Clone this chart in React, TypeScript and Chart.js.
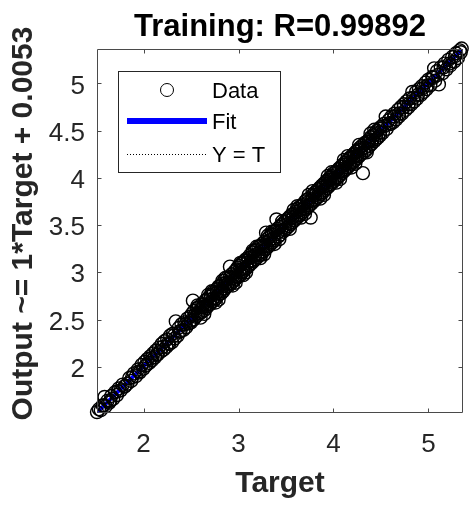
import React, { useEffect, useRef } from "react";
import { Chart, registerables } from "chart.js";

Chart.register(...registerables);

// Regression of network output against target (training subset)
const targets = [
  1.51, 1.53, 1.55, 1.57, 1.59, 1.60, 1.62, 1.64, 1.66, 1.68,
  1.70, 1.72, 1.74, 1.76, 1.78, 1.80, 1.83, 1.85, 1.87, 1.90,
  1.92, 1.94, 1.96, 1.98,
  2.00, 2.01, 2.03, 2.04, 2.06, 2.07, 2.09, 2.10, 2.12, 2.13,
  2.15, 2.16, 2.18, 2.19, 2.21, 2.22, 2.24, 2.25, 2.27, 2.28,
  2.30, 2.31, 2.33, 2.34, 2.36, 2.37, 2.39, 2.40, 2.42, 2.43,
  2.45, 2.46, 2.48, 2.49,
  2.50, 2.51, 2.52, 2.53, 2.53, 2.55, 2.56, 2.57, 2.58, 2.60,
  2.61, 2.61, 2.63, 2.64, 2.65, 2.66, 2.67, 2.67, 2.69, 2.70,
  2.71, 2.72, 2.73, 2.74, 2.74, 2.76, 2.77, 2.78, 2.79, 2.80,
  2.81, 2.82, 2.83, 2.84, 2.85, 2.86, 2.87, 2.88, 2.88, 2.90,
  2.91, 2.91, 2.92, 2.93, 2.95, 2.96, 2.97, 2.98, 2.99, 2.99,
  3.00, 3.01, 3.02, 3.03, 3.03, 3.04, 3.05, 3.06, 3.07, 3.08,
  3.09, 3.10, 3.11, 3.12, 3.12, 3.13, 3.14, 3.15, 3.16, 3.17,
  3.18, 3.19, 3.20, 3.21, 3.22, 3.23, 3.24, 3.25, 3.26, 3.27,
  3.28, 3.29, 3.30, 3.31, 3.32, 3.33, 3.34, 3.35, 3.36, 3.37,
  3.38, 3.39, 3.40, 3.41, 3.42, 3.43, 3.44, 3.45, 3.47, 3.48,
  3.49, 3.50,
  3.51, 3.52, 3.53, 3.54, 3.55, 3.56, 3.57, 3.58, 3.59, 3.60,
  3.61, 3.62, 3.63, 3.64, 3.65, 3.66, 3.67, 3.68, 3.69, 3.70,
  3.71, 3.72, 3.73, 3.74, 3.75, 3.76, 3.77, 3.78, 3.79, 3.80,
  3.81, 3.82, 3.83, 3.84, 3.85, 3.86, 3.87, 3.88, 3.89, 3.90,
  3.91, 3.92, 3.93, 3.94, 3.95, 3.96, 3.97, 3.98, 3.99,
  4.00, 4.01, 4.02, 4.03, 4.04, 4.05, 4.06, 4.07, 4.08, 4.09,
  4.10, 4.11, 4.12, 4.13, 4.14, 4.15, 4.16, 4.17, 4.18, 4.19,
  4.20, 4.21, 4.22, 4.23, 4.24, 4.25, 4.26, 4.27, 4.28, 4.29,
  4.30, 4.31, 4.32, 4.33, 4.34, 4.35, 4.36, 4.37, 4.38, 4.39,
  4.40, 4.42, 4.43, 4.44, 4.45, 4.46, 4.47, 4.48, 4.49,
  4.50, 4.52, 4.53, 4.55, 4.56, 4.58, 4.60, 4.61, 4.63, 4.64,
  4.66, 4.68, 4.69, 4.71, 4.72, 4.74, 4.76, 4.77, 4.79, 4.80,
  4.82, 4.83, 4.85, 4.87, 4.88, 4.90, 4.92, 4.93, 4.95, 4.97,
  4.98,
  5.00, 5.02, 5.04, 5.06, 5.07, 5.09, 5.11, 5.13, 5.15, 5.17,
  5.19, 5.21, 5.23, 5.25, 5.27, 5.29, 5.31, 5.33, 5.35,
  1.58, 1.65, 1.73, 1.81, 1.88, 1.95, 2.02, 2.08, 2.14, 2.20,
  2.26, 2.32, 2.38, 2.44, 2.50, 2.54, 2.58, 2.62, 2.66, 2.70,
  2.73, 2.77, 2.81, 2.85, 2.89, 2.93, 2.97, 3.01, 3.05, 3.09,
  3.13, 3.17, 3.21, 3.25, 3.29, 3.33, 3.37, 3.41, 3.45, 3.49,
  3.53, 3.57, 3.61, 3.65, 3.69, 3.73, 3.77, 3.81, 3.85, 3.89,
  3.93, 3.97, 4.01, 4.05, 4.09, 4.13, 4.17, 4.21, 4.25, 4.29,
  4.33, 4.37, 4.41, 4.45, 4.49, 4.54, 4.59, 4.64, 4.69, 4.74,
  4.79, 4.84, 4.89, 4.94, 4.99, 5.05, 5.10, 5.16, 5.22, 5.28,
  5.34,
  2.57, 2.64, 2.72, 2.79, 2.86, 2.94, 3.02, 3.08, 3.15, 3.23,
  3.31, 3.38, 3.46, 3.54, 3.62, 3.70, 3.78, 3.86, 3.94, 4.03,
  4.11, 4.19, 4.27, 4.35, 4.43, 2.60, 2.68, 2.76, 2.83, 2.97,
  3.05, 3.19, 3.27, 3.35, 3.43, 3.58, 3.66, 3.74, 3.90, 3.98,
  4.07, 4.15, 4.23, 4.39,
];

const outputs = [
  1.52, 1.55, 1.54, 1.59, 1.68, 1.58, 1.64, 1.62, 1.69, 1.66,
  1.73, 1.70, 1.77, 1.75, 1.81, 1.79, 1.82, 1.88, 1.85, 1.93,
  1.90, 1.97, 1.94, 2.02,
  1.98, 2.05, 2.02, 2.08, 2.04, 2.11, 2.07, 2.14, 2.10, 2.17,
  2.13, 2.20, 2.16, 2.24, 2.18, 2.27, 2.21, 2.29, 2.24, 2.33,
  2.26, 2.35, 2.30, 2.48, 2.33, 2.41, 2.38, 2.45, 2.39, 2.47,
  2.42, 2.51, 2.46, 2.53,
  2.47, 2.56, 2.70, 2.50, 2.59, 2.53, 2.62, 2.55, 2.63, 2.57,
  2.66, 2.58, 2.66, 2.60, 2.70, 2.62, 2.71, 2.64, 2.74, 2.66,
  2.76, 2.69, 2.79, 2.70, 2.78, 2.72, 2.82, 2.75, 2.85, 2.77,
  2.86, 2.78, 2.88, 2.80, 2.91, 2.83, 2.89, 2.85, 2.94, 2.86,
  3.06, 2.95, 2.88, 2.98, 2.91, 3.01, 2.93, 3.03, 2.95, 3.05,
  2.96, 3.07, 2.97, 3.09, 3.00, 3.10, 3.01, 3.12, 3.03, 3.14,
  3.05, 3.15, 3.07, 3.18, 3.09, 3.16, 3.10, 3.21, 3.12, 3.23,
  3.14, 3.24, 3.16, 3.27, 3.18, 3.28, 3.19, 3.30, 3.22, 3.32,
  3.24, 3.42, 3.26, 3.36, 3.28, 3.38, 3.30, 3.40, 3.32, 3.43,
  3.34, 3.44, 3.56, 3.46, 3.38, 3.48, 3.40, 3.50, 3.43, 3.53,
  3.45, 3.55,
  3.47, 3.57, 3.49, 3.59, 3.51, 3.61, 3.53, 3.62, 3.55, 3.64,
  3.57, 3.67, 3.59, 3.69, 3.61, 3.70, 3.63, 3.72, 3.65, 3.75,
  3.67, 3.77, 3.69, 3.78, 3.71, 3.58, 3.73, 3.82, 3.75, 3.84,
  3.77, 3.86, 3.79, 3.88, 3.81, 3.90, 3.83, 3.92, 3.85, 3.94,
  3.87, 3.96, 3.89, 3.98, 3.91, 4.00, 3.93, 4.02, 3.95,
  4.05, 3.97, 4.06, 3.99, 4.08, 4.01, 4.10, 4.03, 4.12, 4.05,
  4.14, 4.07, 4.16, 4.09, 4.18, 4.11, 4.20, 4.13, 4.22, 4.15,
  4.24, 4.17, 4.26, 4.19, 4.28, 4.21, 4.30, 4.23, 4.32, 4.25,
  4.34, 4.05, 4.27, 4.37, 4.29, 4.38, 4.31, 4.40, 4.34, 4.43,
  4.36, 4.45, 4.39, 4.48, 4.41, 4.50, 4.43, 4.52, 4.45,
  4.54, 4.48, 4.57, 4.65, 4.52, 4.61, 4.57, 4.65, 4.59, 4.68,
  4.62, 4.72, 4.65, 4.75, 4.68, 4.78, 4.72, 4.81, 4.75, 4.84,
  4.78, 4.91, 4.81, 4.91, 4.84, 4.94, 4.88, 4.97, 4.91, 5.01,
  4.94,
  5.04, 4.98, 5.07, 5.16, 5.03, 5.13, 4.99, 5.17, 5.11, 5.21,
  5.15, 5.25, 5.19, 5.28, 5.23, 5.32, 5.27, 5.35, 5.37,
  1.59, 1.64, 1.74, 1.80, 1.89, 1.95, 2.01, 2.09, 2.13, 2.21,
  2.25, 2.33, 2.37, 2.45, 2.49, 2.55, 2.57, 2.63, 2.65, 2.71,
  2.72, 2.78, 2.80, 2.86, 2.88, 2.94, 2.96, 3.02, 3.04, 3.10,
  3.12, 3.18, 3.20, 3.26, 3.28, 3.34, 3.36, 3.42, 3.44, 3.50,
  3.52, 3.58, 3.60, 3.66, 3.68, 3.74, 3.76, 3.82, 3.84, 3.90,
  3.92, 3.98, 4.00, 4.06, 4.08, 4.14, 4.16, 4.22, 4.24, 4.30,
  4.32, 4.38, 4.40, 4.46, 4.48, 4.55, 4.58, 4.65, 4.68, 4.75,
  4.78, 4.85, 4.88, 4.95, 4.98, 5.06, 5.09, 5.17, 5.21, 5.29,
  5.33,
  2.65, 2.56, 2.80, 2.71, 2.94, 2.86, 3.10, 3.00, 3.23, 3.15,
  3.39, 3.30, 3.54, 3.46, 3.70, 3.62, 3.86, 3.78, 4.02, 3.95,
  4.19, 4.11, 4.35, 4.27, 4.51, 2.52, 2.76, 2.68, 2.91, 2.89,
  2.97, 3.27, 3.19, 3.43, 3.35, 3.66, 3.58, 3.82, 3.82, 4.06,
  3.99, 4.23, 4.15, 4.47,
];

const axisLimits = [1.51, 5.365];
const xTicks = [2, 3, 4, 5];
const yTicks = [2, 2.5, 3, 3.5, 4, 4.5, 5];
const fitSlope = 1;
const fitIntercept = 0.0053;

const titleText = "Training: R=0.99892";
const xTitle = "Target";
const yTitle = "Output ~= 1*Target + 0.0053";
const legendLabels = ["Data", "Fit", "Y = T"];

const FONT = "'Liberation Sans', Arial, Helvetica, sans-serif";
const AXIS_COLOR = "#262626";
const FIT_COLOR = "#0000ff";

const decorations = {
  id: "decorations",
  afterDraw(chart: any) {
    const { ctx, chartArea: a, scales } = chart;
    const sx = scales.x;
    const sy = scales.y;
    const left = Math.round(a.left) + 0.5;
    const right = Math.round(a.right) - 0.5;
    const top = Math.round(a.top) + 0.5;
    const bottom = Math.round(a.bottom) - 0.5;
    ctx.save();

    // axes box with inward tick marks on all four sides
    ctx.strokeStyle = "#4a4a4a";
    ctx.lineWidth = 1;
    ctx.beginPath();
    ctx.rect(left, top, right - left, bottom - top);
    const tl = 4;
    xTicks.forEach((v) => {
      const px = Math.round(sx.getPixelForValue(v)) + 0.5;
      ctx.moveTo(px, bottom);
      ctx.lineTo(px, bottom - tl);
      ctx.moveTo(px, top);
      ctx.lineTo(px, top + tl);
    });
    yTicks.forEach((v) => {
      const py = Math.round(sy.getPixelForValue(v)) + 0.5;
      ctx.moveTo(left, py);
      ctx.lineTo(left + tl, py);
      ctx.moveTo(right, py);
      ctx.lineTo(right - tl, py);
    });
    ctx.stroke();

    // title
    const cx = (a.left + a.right) / 2;
    ctx.fillStyle = "#000";
    ctx.font = `bold 31px ${FONT}`;
    ctx.textAlign = "center";
    ctx.textBaseline = "alphabetic";
    ctx.fillText(titleText, cx, 36);

    // axis titles
    ctx.fillStyle = AXIS_COLOR;
    ctx.font = `bold 30px ${FONT}`;
    ctx.fillText(xTitle, cx, 492);
    ctx.save();
    ctx.translate(32, 223.5);
    ctx.rotate(-Math.PI / 2);
    ctx.fillText(yTitle, 0, 0);
    ctx.restore();

    // legend
    ctx.fillStyle = "#fff";
    ctx.fillRect(118, 71, 162, 101);
    ctx.strokeStyle = AXIS_COLOR;
    ctx.lineWidth = 1;
    ctx.strokeRect(118.5, 71.5, 162, 101);

    ctx.beginPath();
    ctx.arc(167, 90, 6.5, 0, Math.PI * 2);
    ctx.strokeStyle = "#000";
    ctx.stroke();

    ctx.beginPath();
    ctx.moveTo(127, 121);
    ctx.lineTo(207, 121);
    ctx.strokeStyle = FIT_COLOR;
    ctx.lineWidth = 6;
    ctx.stroke();

    ctx.beginPath();
    ctx.setLineDash([1, 2]);
    ctx.moveTo(127, 154.5);
    ctx.lineTo(207, 154.5);
    ctx.strokeStyle = "#000";
    ctx.lineWidth = 1;
    ctx.stroke();
    ctx.setLineDash([]);

    ctx.fillStyle = "#000";
    ctx.font = `22px ${FONT}`;
    ctx.textAlign = "left";
    ctx.fillText(legendLabels[0], 212, 98);
    ctx.fillText(legendLabels[1], 212, 129);
    ctx.fillText(legendLabels[2], 212, 162);

    ctx.restore();
  },
};

export default function App() {
  const canvasRef = useRef<HTMLCanvasElement | null>(null);

  useEffect(() => {
    const canvas = canvasRef.current;
    if (!canvas) return;
    const [lo, hi] = axisLimits;
    const points = targets.map((t, i) => ({ x: t, y: outputs[i] }));
    const fitLine = [lo, hi].map((t) => ({ x: t, y: fitSlope * t + fitIntercept }));
    const identityLine = [lo, hi].map((t) => ({ x: t, y: t }));

    const tickFont = { family: FONT, size: 26 };

    const chart = new Chart(canvas, {
      type: "scatter",
      data: {
        datasets: [
          {
            label: legendLabels[0],
            data: points,
            pointStyle: "circle",
            pointRadius: 6.5,
            borderColor: "#000",
            backgroundColor: "rgba(0,0,0,0)",
            borderWidth: 1.4,
            order: 0,
            clip: false,
          },
          {
            label: legendLabels[1],
            data: fitLine,
            showLine: true,
            borderColor: FIT_COLOR,
            borderWidth: 4,
            pointRadius: 0,
            order: 1,
          },
          {
            label: legendLabels[2],
            data: identityLine,
            showLine: true,
            borderColor: "#000",
            borderWidth: 1,
            borderDash: [1, 2],
            pointRadius: 0,
            order: 2,
          },
        ],
      } as any,
      options: {
        responsive: false,
        animation: false,
        devicePixelRatio: 1,
        layout: { padding: { left: 0, top: 49, right: 7, bottom: 0 } },
        plugins: {
          legend: { display: false },
          tooltip: { enabled: false },
          title: { display: false },
        },
        scales: {
          x: {
            type: "linear",
            min: lo,
            max: hi,
            grid: { display: false, drawTicks: false },
            border: { display: false },
            afterBuildTicks: (s: any) => {
              s.ticks = xTicks.map((v) => ({ value: v }));
            },
            afterFit: (s: any) => {
              s.height = 93;
            },
            ticks: {
              font: tickFont,
              color: AXIS_COLOR,
              padding: 16,
              maxRotation: 0,
              autoSkip: false,
              callback: (v: any) => String(v),
            },
          },
          y: {
            type: "linear",
            min: lo,
            max: hi,
            grid: { display: false, drawTicks: false },
            border: { display: false },
            afterBuildTicks: (s: any) => {
              s.ticks = yTicks.map((v) => ({ value: v }));
            },
            afterFit: (s: any) => {
              s.width = 97;
            },
            ticks: {
              font: tickFont,
              color: AXIS_COLOR,
              padding: 12,
              labelOffset: 3,
              autoSkip: false,
              callback: (v: any) => String(v),
            },
          },
        },
      } as any,
      plugins: [decorations],
    });

    return () => chart.destroy();
  }, []);

  return (
    <div style={{ position: "absolute", left: 0, top: 0, width: 471, height: 506, background: "#fff" }}>
      <canvas ref={canvasRef} width={471} height={506} style={{ width: 471, height: 506, display: "block" }} />
    </div>
  );
}
